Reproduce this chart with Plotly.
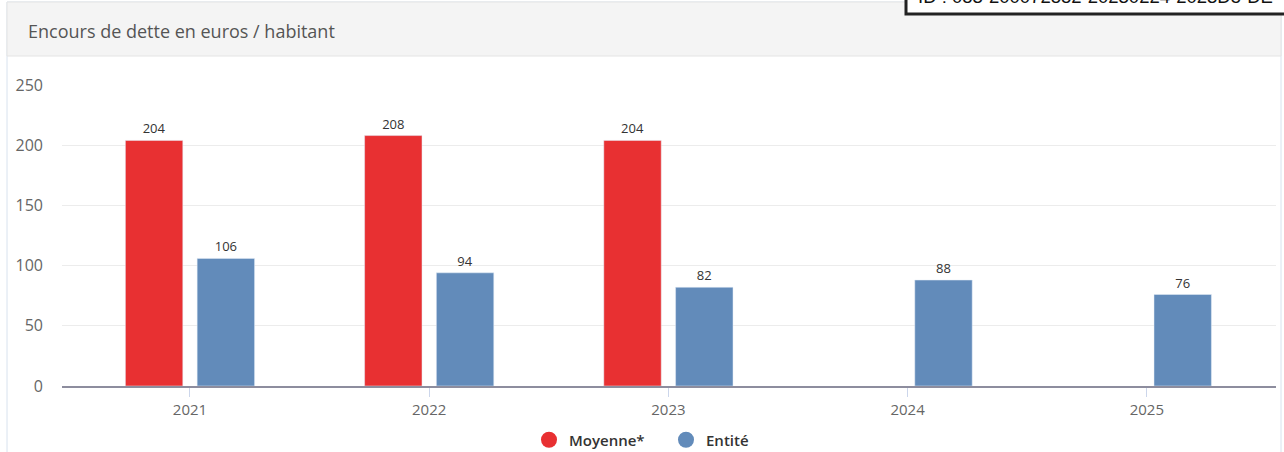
import plotly.graph_objects as go

# ---- data ----
years = ["2021", "2022", "2023", "2024", "2025"]
moyenne = [204, 208, 204, None, None]
entite = [106, 94, 82, 88, 76]
series_names = ["Moyenne*", "Entité"]
title_text = "Encours de dette en euros / habitant"
id_text = "ID : 083-200072882-20230224-2023D5-DE"
y_ticks = [0, 50, 100, 150, 200, 250]

RED = "#e83032"
BLUE = "#628bba"

W, H = 1284, 452
L, R, T, B = 62, 8, 85, 66
PW = W - L - R
PH = H - T - B


def px2x(px):
    return (px - L) / PW


def py2y(py):
    return (H - B - py) / PH


fig = go.Figure()

fig.add_trace(go.Bar(
    x=years, y=moyenne, name=series_names[0], marker_color=RED,
    text=[str(v) if v is not None else "" for v in moyenne],
    textposition="outside", cliponaxis=False,
    textfont=dict(family="Open Sans", size=13, color="#333333"),
    showlegend=False,
))
fig.add_trace(go.Bar(
    x=years, y=entite, name=series_names[1], marker_color=BLUE,
    text=[str(v) for v in entite],
    textposition="outside", cliponaxis=False,
    textfont=dict(family="Open Sans", size=13, color="#333333"),
    showlegend=False,
))
# legend entries with circle symbols
for nm, col in zip(series_names, [RED, BLUE]):
    fig.add_trace(go.Scatter(
        x=[None], y=[None], mode="markers", name=nm,
        marker=dict(symbol="circle", size=16, color=col),
        showlegend=True,
    ))

shapes = [
    # panel border
    dict(type="rect", xref="paper", yref="paper", layer="below",
         x0=px2x(7), x1=px2x(1281), y0=py2y(470), y1=py2y(2),
         line=dict(color="#d8e2ee", width=1), fillcolor="white"),
    # header
    dict(type="rect", xref="paper", yref="paper", layer="below",
         x0=px2x(7), x1=px2x(1281), y0=py2y(56), y1=py2y(2),
         line=dict(color="#e4e4e4", width=1), fillcolor="#f4f4f4"),
    # ID box
    dict(type="rect", xref="paper", yref="paper", layer="above",
         x0=px2x(906), x1=px2x(1300), y0=py2y(14), y1=py2y(-30),
         line=dict(color="#222222", width=3), fillcolor="white"),
]

annotations = [
    dict(text=title_text, xref="paper", yref="paper",
         x=px2x(26), y=py2y(31), xanchor="left", yanchor="middle",
         showarrow=False, font=dict(family="Open Sans", size=18, color="#555555")),
    dict(text=id_text, xref="paper", yref="paper",
         x=px2x(916), y=py2y(9), xanchor="left", yanchor="bottom",
         showarrow=False, font=dict(family="Liberation Sans", size=18.5, color="#111111")),
]

fig.update_layout(
    width=W, height=H,
    margin=dict(l=L, r=R, t=T, b=B, pad=0, autoexpand=False),
    paper_bgcolor="white", plot_bgcolor="rgba(0,0,0,0)",
    barmode="group", bargap=0.4, bargroupgap=0.2,
    shapes=shapes, annotations=annotations,
    font=dict(family="Open Sans", color="#666666"),
    legend=dict(orientation="h", xanchor="left", x=(548 - 19) / W, xref="container",
                yanchor="middle", y=(H - 440) / H, yref="container",
                entrywidth=92, entrywidthmode="pixels",
                font=dict(family="Open Sans", size=15, color="#333333", weight=600),
                bgcolor="rgba(0,0,0,0)"),
    showlegend=True,
)
fig.update_xaxes(
    type="category", range=[-0.535, 4.54],
    showline=True, linecolor="#8d8d9e", linewidth=2,
    ticks="outside", ticklen=9, tickcolor="#ccd6eb", tickwidth=1,
    tickfont=dict(family="Open Sans", size=15, color="#666666"),
    showgrid=False, zeroline=False, fixedrange=True,
)
fig.update_yaxes(
    range=[0, 250], tickvals=y_ticks,
    showgrid=True, gridcolor="#ececec", gridwidth=1,
    zeroline=False, showline=False,
    tickfont=dict(family="Open Sans", size=16, color="#666666"),
    ticks="", ticklabelstandoff=18, fixedrange=True,
)

fig.write_html("out.html", config={"displayModeBar": False},
               post_script="document.body.style.margin='0';document.body.style.overflow='hidden';")
